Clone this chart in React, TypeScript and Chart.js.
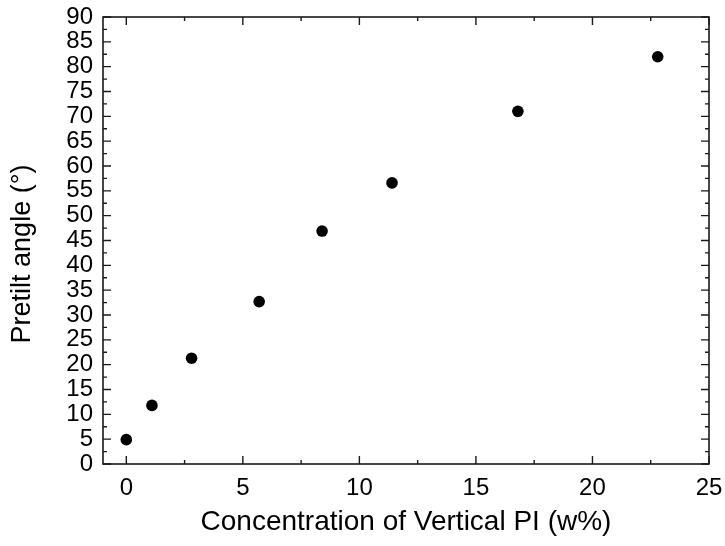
import React, { useEffect, useRef } from "react";
import { Chart, registerables } from "chart.js";

Chart.register(...registerables);

const concentration = [0, 1.1, 2.8, 5.7, 8.4, 11.4, 16.8, 22.8];
const pretiltAngle = [4.9, 11.8, 21.3, 32.7, 46.9, 56.6, 71.0, 82.0];
const xTickValues = [0, 5, 10, 15, 20, 25];
const xMinorValues = [2.5, 7.5, 12.5, 17.5, 22.5];
const yTickValues = [0, 5, 10, 15, 20, 25, 30, 35, 40, 45, 50, 55, 60, 65, 70, 75, 80, 85, 90];
const yMinorValues = [2.5, 7.5, 12.5, 17.5, 22.5, 27.5, 32.5, 37.5, 42.5, 47.5, 52.5, 57.5, 62.5, 67.5, 72.5, 77.5, 82.5, 87.5];
const xTitle = "Concentration of Vertical PI (w%)";
const yTitle = "Pretilt angle (°)";

const FONT = "'Liberation Sans', Arial, sans-serif";

const framePlugin = {
  id: "frameTicks",
  afterDraw(chart: any) {
    const { ctx, chartArea } = chart;
    const { left, right, top, bottom } = chartArea;
    const xs = chart.scales.x;
    const ys = chart.scales.y;
    ctx.save();
    ctx.strokeStyle = "#1a1a1a";
    ctx.lineWidth = 1.6;
    ctx.strokeRect(left, top, right - left, bottom - top);
    ctx.lineWidth = 1.4;
    const drawX = (vals: number[], len: number) => {
      vals.forEach((v) => {
        const px = xs.getPixelForValue(v);
        ctx.beginPath();
        ctx.moveTo(px, bottom);
        ctx.lineTo(px, bottom - len);
        ctx.moveTo(px, top);
        ctx.lineTo(px, top + len);
        ctx.stroke();
      });
    };
    const drawY = (vals: number[], len: number) => {
      vals.forEach((v) => {
        const py = ys.getPixelForValue(v);
        ctx.beginPath();
        ctx.moveTo(left, py);
        ctx.lineTo(left + len, py);
        ctx.moveTo(right, py);
        ctx.lineTo(right - len, py);
        ctx.stroke();
      });
    };
    drawX(xTickValues, 8);
    drawX(xMinorValues, 4);
    drawY(yTickValues, 8);
    drawY(yMinorValues, 4);

    // y-axis title
    ctx.fillStyle = "#000";
    ctx.font = `27px ${FONT}`;
    ctx.textAlign = "center";
    ctx.textBaseline = "middle";
    ctx.translate(23, 254);
    ctx.rotate(-Math.PI / 2);
    ctx.fillText(yTitle, 0, 0);
    ctx.restore();
  },
};

export default function App() {
  const ref = useRef<HTMLCanvasElement | null>(null);
  useEffect(() => {
    document.body.style.margin = "0";
    const canvas = ref.current;
    if (!canvas) return;
    const chart = new Chart(canvas, {
      type: "scatter",
      data: {
        datasets: [
          {
            data: concentration.map((x, i) => ({ x, y: pretiltAngle[i] })),
            backgroundColor: "#000",
            borderColor: "#000",
            borderWidth: 0,
            pointRadius: 5.8,
          },
        ],
      },
      options: {
        animation: false,
        responsive: false,
        devicePixelRatio: 1,
        layout: { padding: { top: 17, right: 16, left: 0, bottom: 0 } },
        plugins: { legend: { display: false }, tooltip: { enabled: false } },
        scales: {
          x: {
            type: "linear",
            min: -1,
            max: 25,
            afterBuildTicks: (s: any) => {
              s.ticks = xTickValues.map((v) => ({ value: v }));
            },
            afterFit: (s: any) => {
              s.height = 82;
              s.paddingLeft = 0;
              s.paddingRight = 0;
            },
            grid: { display: false, drawTicks: false },
            border: { display: false },
            ticks: {
              color: "#000",
              font: { family: FONT, size: 24 },
              padding: 10,
              maxRotation: 0,
              autoSkip: false,
            },
            title: {
              display: true,
              text: xTitle,
              color: "#000",
              font: { family: FONT, size: 28 },
              padding: { top: 0, bottom: 7 },
            },
          },
          y: {
            type: "linear",
            min: 0,
            max: 90,
            afterBuildTicks: (s: any) => {
              s.ticks = yTickValues.map((v) => ({ value: v }));
            },
            afterFit: (s: any) => {
              s.width = 103;
              s.paddingTop = 0;
              s.paddingBottom = 0;
            },
            grid: { display: false, drawTicks: false },
            border: { display: false },
            ticks: {
              color: "#000",
              font: { family: FONT, size: 24 },
              padding: 10,
              autoSkip: false,
            },
            title: { display: false },
          },
        },
      },
      plugins: [framePlugin],
    });
    return () => chart.destroy();
  }, []);
  return (
    <div style={{ position: "absolute", left: 0, top: 0, width: 725, height: 546 }}>
      <canvas ref={ref} width={725} height={546} />
    </div>
  );
}
